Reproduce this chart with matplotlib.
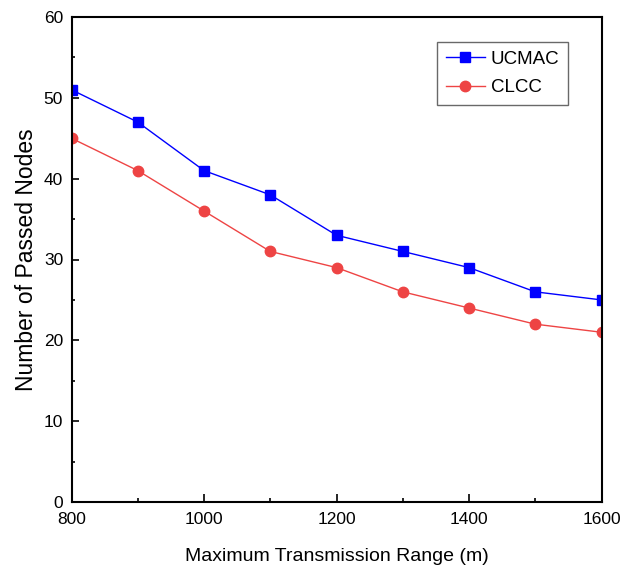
import matplotlib
matplotlib.use("Agg")
import matplotlib.pyplot as plt
from matplotlib.ticker import MultipleLocator

plt.rcParams['font.family'] = ['Liberation Sans', 'DejaVu Sans']

x = [800, 900, 1000, 1100, 1200, 1300, 1400, 1500, 1600]
ucmac = [51, 47, 41, 38, 33, 31, 29, 26, 25]
clcc = [45, 41, 36, 31, 29, 26, 24, 22, 21]

fig = plt.figure(figsize=(6.32, 5.69), dpi=100)
ax = fig.add_axes([71.5/632, 1-502/569, (601.5-71.5)/632, (502-17)/569])

ax.plot(x, ucmac, color='#0000FF', marker='s', markersize=6.5, linewidth=1.0, label='UCMAC')
ax.plot(x, clcc, color='#EE4444', marker='o', markersize=7.5, linewidth=1.0, label='CLCC')

ax.set_xlim(800, 1600)
ax.set_ylim(0, 60)
ax.xaxis.set_major_locator(MultipleLocator(200))
ax.xaxis.set_minor_locator(MultipleLocator(100))
ax.yaxis.set_major_locator(MultipleLocator(10))
ax.yaxis.set_minor_locator(MultipleLocator(5))

ax.tick_params(axis='x', which='major', direction='in', length=6, width=1.2, labelsize=12.5, pad=7)
ax.tick_params(axis='x', which='minor', direction='in', length=3, width=1.2)
ax.tick_params(axis='y', which='major', direction='in', length=5, width=1.2, labelsize=12.5, pad=6)
ax.tick_params(axis='y', which='minor', direction='in', length=2.5, width=1.2)
for s in ax.spines.values():
    s.set_linewidth(1.5)

ax.set_xlabel('Maximum Transmission Range (m)', fontsize=14, labelpad=15)
ax.set_ylabel('Number of Passed Nodes', fontsize=16.5, labelpad=4)

leg = ax.legend(loc='upper left', bbox_to_anchor=(0.69, 0.948), fontsize=13.5,
                frameon=True, fancybox=False, edgecolor='#444444',
                handlelength=2.1, handletextpad=0.3, borderpad=0.45, labelspacing=0.6,
                borderaxespad=0)
leg.get_frame().set_linewidth(1.0)

fig.savefig('out.png', dpi=100)
